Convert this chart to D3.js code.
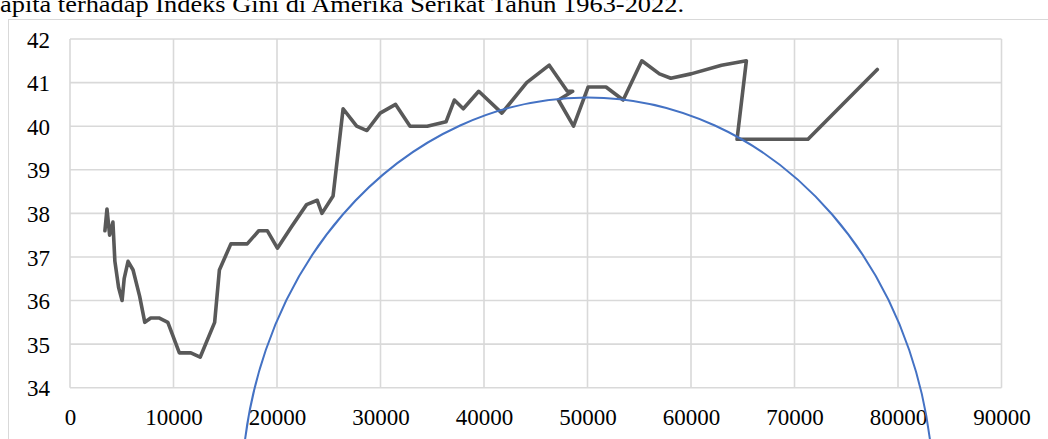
<!DOCTYPE html>
<html>
<head>
<meta charset="utf-8">
<script src="https://cdn.jsdelivr.net/npm/d3@7/dist/d3.min.js"></script>
<style>
  html, body { margin: 0; padding: 0; background: #fff; overflow: hidden; }
  svg { display: block; }
  text { font-family: "Liberation Serif", "Times New Roman", serif; fill: #000; }
</style>
</head>
<body>
<svg id="chart" width="1048" height="439"></svg>
<script>
// ---- data ----
const titleText = "apita terhadap Indeks Gini di Amerika Serikat Tahun 1963-2022.";
const years = d3.range(1963, 2023);
const gdpPerCapita = [3374, 3573, 3828, 4146, 4336, 4696, 5032, 5234, 5609, 6094,
  6726, 7226, 7801, 8592, 9453, 10565, 11674, 12575, 13976, 14434,
  15544, 17121, 18237, 19071, 20039, 21418, 22857, 23889, 24342, 25419,
  26387, 27695, 28691, 29968, 31459, 32854, 34515, 36330, 37134, 37998,
  39490, 41725, 44123, 46302, 48050, 48570, 47195, 48651, 50066, 51784,
  53450, 55250, 56950, 58050, 60000, 62950, 65350, 64450, 71300, 78000];
const giniIndex = [37.6, 38.1, 37.5, 37.8, 36.9, 36.3, 36.0, 36.5, 36.9, 36.7,
  36.1, 35.5, 35.6, 35.6, 35.5, 34.8, 34.8, 34.7, 35.5, 36.7,
  37.3, 37.3, 37.6, 37.6, 37.2, 37.7, 38.2, 38.3, 38.0, 38.4,
  40.4, 40.0, 39.9, 40.3, 40.5, 40.0, 40.0, 40.1, 40.6, 40.4,
  40.8, 40.3, 41.0, 41.4, 40.8, 40.8, 40.6, 40.0, 40.9, 40.9,
  40.6, 41.5, 41.2, 41.1, 41.2, 41.4, 41.5, 39.7, 39.7, 41.3];
const xTicks = [0, 10000, 20000, 30000, 40000, 50000, 60000, 70000, 80000, 90000];
const yTicks = [34, 35, 36, 37, 38, 39, 40, 41, 42];
// inverted-U (Kuznets) curve: elliptical arc, in data units
const curveCenterX = 50000;
const curveHalfWidth = 33430;
const curveTopY = 40.66;
const curveCenterY = 31.49;

// ---- layout ----
const svg = d3.select("#chart");
const x = d3.scaleLinear().domain([0, 90000]).range([70, 1001.5]);
const y = d3.scaleLinear().domain([34, 42]).range([387.7, 39]);

// chart frame
svg.append("rect")
  .attr("x", 8.5).attr("y", 19.5).attr("width", 1060).attr("height", 460)
  .attr("fill", "none").attr("stroke", "#D9D9D9").attr("stroke-width", 1);

// title (partially cut caption above)
svg.append("text")
  .attr("x", 0).attr("y", 12)
  .attr("font-size", 23)
  .attr("textLength", 684).attr("lengthAdjust", "spacingAndGlyphs")
  .text(titleText);

// gridlines
const grid = svg.append("g").attr("stroke", "#D9D9D9").attr("stroke-width", 1.6);
grid.selectAll("line.h").data(yTicks).join("line")
  .attr("x1", x(0)).attr("x2", x(90000))
  .attr("y1", d => y(d)).attr("y2", d => y(d));
grid.selectAll("line.v").data(xTicks).join("line")
  .attr("x1", d => x(d)).attr("x2", d => x(d))
  .attr("y1", y(34)).attr("y2", y(42));

// axes labels via d3 axes
const yAxis = d3.axisLeft(y).tickValues(yTicks).tickSize(0).tickPadding(20).tickFormat(d3.format("d"));
const gy = svg.append("g").attr("transform", `translate(${x(0)},0)`).call(yAxis);
gy.select(".domain").remove();
gy.selectAll("text").attr("font-size", 23).attr("font-family", "Liberation Serif").attr("fill", "#000").attr("dy", "0.35em");

const xAxis = d3.axisBottom(x).tickValues(xTicks).tickSize(0).tickPadding(21).tickFormat(d3.format("d"));
const gx = svg.append("g").attr("transform", `translate(0,${y(34)})`).call(xAxis);
gx.select(".domain").remove();
gx.selectAll("text").attr("font-size", 23).attr("font-family", "Liberation Serif").attr("fill", "#000").attr("dy", "0.71em");

// data line
const pts = gdpPerCapita.map((g, i) => [g, giniIndex[i]]);
const line = d3.line().x(d => x(d[0])).y(d => y(d[1]));
svg.append("path")
  .datum(pts)
  .attr("d", line)
  .attr("fill", "none")
  .attr("stroke", "#595959")
  .attr("stroke-width", 3.6)
  .attr("stroke-linejoin", "round")
  .attr("stroke-linecap", "round");

// curve
svg.append("ellipse")
  .attr("cx", x(curveCenterX))
  .attr("cy", y(curveCenterY))
  .attr("rx", x(curveCenterX + curveHalfWidth) - x(curveCenterX))
  .attr("ry", y(curveCenterY) - y(curveTopY))
  .attr("fill", "none")
  .attr("stroke", "#4472C4")
  .attr("stroke-width", 2);
</script>
</body>
</html>
